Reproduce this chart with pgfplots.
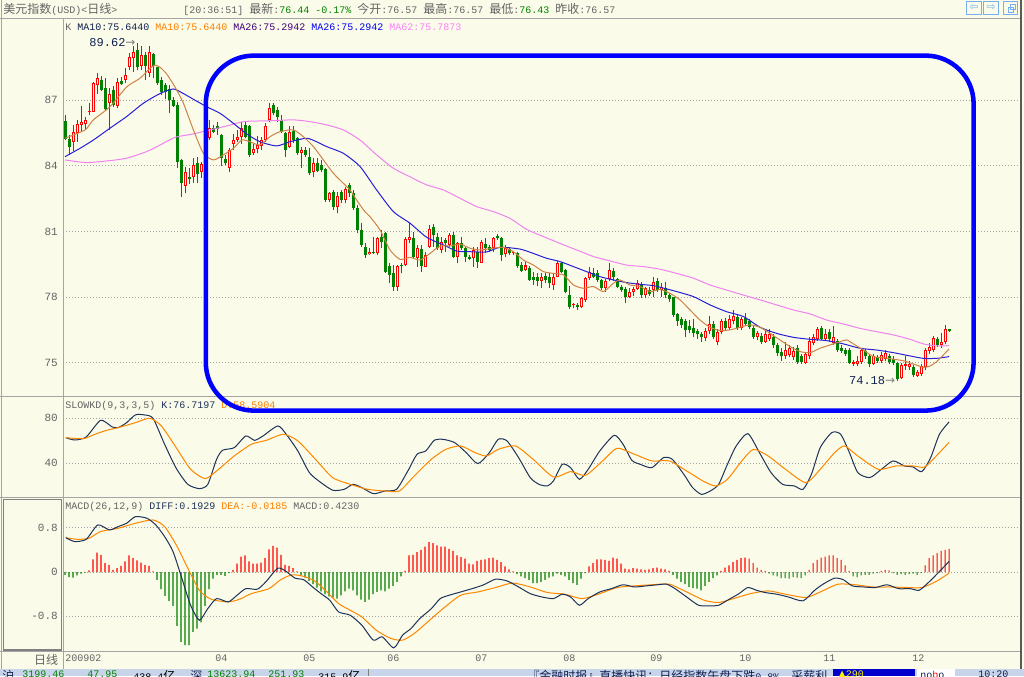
\documentclass[border=0pt]{standalone}
\usepackage{pgfplots}
\pgfplotsset{compat=1.18}
\usepackage{pgfplotstable}
\usepackage{fontspec}
\setmainfont{Liberation Mono}
\newfontfamily\cjk[Scale=1.2]{Noto Sans CJK SC}
\newfontfamily\sym{DejaVu Sans}

\definecolor{bg}{RGB}{250,251,232}
\definecolor{upred}{RGB}{255,0,0}
\definecolor{dngreen}{RGB}{0,128,0}
\definecolor{ma10}{RGB}{205,130,70}
\definecolor{ma26}{RGB}{40,30,215}
\definecolor{ma62}{RGB}{240,130,240}
\definecolor{kline}{RGB}{30,50,90}
\definecolor{dline}{RGB}{255,135,0}
\definecolor{txtgray}{RGB}{100,100,100}
\definecolor{gridgray}{RGB}{165,165,165}
\definecolor{framegray}{RGB}{165,165,165}
\definecolor{navy}{RGB}{16,32,80}
\definecolor{purp}{RGB}{64,0,128}
\definecolor{pinklab}{RGB}{255,128,255}
\definecolor{annoblue}{RGB}{0,0,255}
\definecolor{iconblue}{RGB}{120,175,240}
\definecolor{statusbg}{RGB}{200,212,234}
\definecolor{orangelab}{RGB}{255,128,0}

\newcommand\basefont{\fontsize{7.5pt}{9pt}\selectfont}
\newcommand\ticfont{\fontsize{8.25pt}{9pt}\selectfont}

\pgfplotstableread{
i o h l c
0 86.05 86.31 85.18 85.24
1 85.24 85.40 84.50 84.85
2 85.10 85.87 84.68 85.56
3 85.50 86.10 85.10 85.90
4 85.87 86.73 85.56 86.02
5 85.90 86.25 85.67 86.10
6 86.45 86.85 86.30 86.46
7 86.47 87.85 86.45 87.77
8 87.70 88.23 87.30 88.00
9 87.92 88.10 87.40 87.47
10 87.54 88.00 86.55 86.58
11 86.86 87.54 85.64 87.28
12 87.47 87.65 86.70 86.78
13 86.73 88.03 86.63 87.85
14 87.88 88.07 87.70 87.74
15 87.93 88.45 87.80 88.15
16 88.53 89.14 88.38 88.99
17 88.91 89.47 88.30 89.22
18 89.30 89.62 88.38 88.50
19 88.56 89.47 88.38 89.06
20 89.06 89.20 87.92 88.56
21 88.23 89.45 88.07 89.22
22 89.10 89.14 88.00 88.56
23 88.50 88.53 87.70 87.77
24 87.90 88.07 87.24 87.35
25 87.70 87.77 87.04 87.39
26 87.50 87.70 86.43 87.00
27 87.00 87.13 86.70 86.75
28 86.78 86.93 83.92 84.19
29 84.27 84.30 82.60 83.20
30 83.10 83.97 82.75 83.70
31 83.51 83.90 83.17 83.39
32 83.48 84.35 83.20 84.04
33 84.12 84.39 83.20 83.63
34 83.74 84.19 83.43 84.09
35 84.05 85.30 83.95 85.20
36 85.26 86.10 85.18 85.72
37 85.75 85.87 85.49 85.56
38 85.82 86.02 85.40 85.70
39 85.41 85.46 84.00 84.35
40 84.30 84.50 84.04 84.12
41 83.92 84.80 83.70 84.73
42 85.00 85.46 84.73 85.20
43 85.18 85.64 85.10 85.33
44 85.33 86.00 85.00 85.72
45 85.87 86.02 85.26 85.33
46 85.82 85.87 84.42 84.50
47 84.57 85.00 84.50 84.75
48 84.75 85.36 84.57 84.95
49 84.90 85.33 84.73 85.18
50 85.18 85.94 85.10 85.82
51 86.10 86.88 86.00 86.63
52 86.78 86.85 86.30 86.40
53 86.55 86.70 86.00 86.22
54 86.10 86.33 85.49 85.56
55 85.49 85.56 84.42 84.73
56 84.88 85.82 84.80 85.56
57 85.60 85.82 85.03 85.18
58 85.26 85.33 84.50 84.57
59 84.57 84.88 83.90 84.73
60 84.73 84.85 84.42 84.50
61 84.42 84.80 83.58 83.66
62 83.74 84.35 83.50 84.15
63 84.15 84.35 83.70 83.78
64 84.04 84.27 83.70 83.80
65 83.84 83.90 82.37 82.44
66 82.44 82.82 82.37 82.75
67 82.82 82.90 81.98 82.14
68 82.14 82.82 81.83 82.62
69 82.82 82.90 82.29 82.44
70 82.44 83.05 82.29 82.93
71 83.13 83.23 82.60 82.75
72 82.75 82.90 81.98 82.06
73 82.06 82.21 80.92 81.07
74 81.07 81.40 80.31 80.39
75 80.28 80.46 79.78 79.93
76 79.96 80.24 79.93 80.08
77 80.08 80.77 79.98 80.00
78 80.00 80.77 79.93 80.72
79 80.77 81.07 80.24 80.54
80 80.92 81.00 79.12 79.17
81 79.43 79.55 78.64 79.02
82 79.09 79.47 78.30 78.46
83 78.49 79.47 78.30 79.43
84 79.48 79.58 79.09 79.43
85 79.47 80.77 79.43 80.65
86 80.62 81.40 80.46 80.77
87 80.70 81.00 79.78 79.86
88 79.78 80.39 79.40 80.24
89 80.20 80.39 79.17 79.43
90 79.40 80.08 79.37 79.93
91 80.30 81.30 80.24 81.10
92 81.19 81.35 80.31 80.84
93 80.77 80.92 80.16 80.24
94 80.16 80.77 80.00 80.54
95 80.62 80.70 80.08 80.46
96 80.39 80.92 80.31 80.85
97 80.85 81.00 79.78 79.86
98 79.86 80.54 79.55 80.46
99 80.46 80.77 80.16 80.24
100 80.24 80.31 79.63 79.86
101 79.86 79.93 79.70 79.75
102 79.78 80.31 79.40 80.16
103 80.08 80.31 79.32 79.63
104 79.58 80.62 79.55 80.54
105 80.42 80.69 80.00 80.24
106 80.30 80.39 80.08 80.16
107 80.24 80.77 80.08 80.72
108 80.80 80.87 80.62 80.69
109 80.69 80.77 79.67 79.93
110 79.96 80.39 79.86 80.27
111 80.20 80.31 79.93 80.00
112 80.00 80.08 79.95 80.04
113 80.00 80.08 79.32 79.43
114 79.48 79.63 79.17 79.22
115 79.25 79.63 79.22 79.45
116 79.32 79.43 78.76 78.79
117 78.94 79.17 78.56 78.79
118 78.94 79.09 78.52 78.76
119 78.76 79.12 78.41 78.94
120 78.97 79.09 78.64 78.79
121 78.91 79.09 78.41 78.67
122 78.56 79.06 78.33 78.91
123 78.94 79.67 78.91 79.55
124 79.55 79.63 79.09 79.17
125 79.25 79.28 78.18 78.26
126 78.10 78.52 77.45 77.57
127 77.63 77.75 77.50 77.70
128 77.63 77.75 77.42 77.57
129 77.54 78.03 77.50 77.95
130 77.88 78.94 77.80 78.87
131 78.87 79.40 78.79 79.17
132 79.12 79.32 78.87 78.94
133 79.09 79.25 78.71 78.79
134 78.79 78.84 78.33 78.41
135 78.41 78.84 78.26 78.74
136 78.82 79.55 78.76 79.25
137 79.20 79.32 78.76 78.91
138 78.82 78.87 78.41 78.49
139 78.46 78.56 78.26 78.33
140 78.36 78.49 77.72 78.03
141 78.00 78.41 77.95 78.26
142 78.26 78.49 78.06 78.38
143 78.38 78.79 78.33 78.64
144 78.56 78.71 77.98 78.10
145 78.10 78.49 77.95 78.41
146 78.33 78.49 78.06 78.13
147 78.33 78.94 78.00 78.71
148 78.76 78.87 78.26 78.33
149 78.33 78.64 78.03 78.49
150 78.41 78.71 77.95 78.10
151 78.10 78.20 77.80 77.90
152 78.00 78.03 77.10 77.19
153 77.25 77.30 76.70 76.90
154 77.00 77.10 76.60 76.75
155 76.90 77.00 76.20 76.50
156 76.70 76.95 76.35 76.50
157 76.60 77.00 76.20 76.35
158 76.45 76.55 76.10 76.30
159 76.30 76.40 75.95 76.20
160 76.15 76.60 76.00 76.45
161 76.45 77.15 76.30 76.80
162 76.80 76.90 76.10 76.20
163 75.95 76.55 75.80 76.40
164 76.40 77.00 76.30 76.90
165 76.90 77.05 76.50 76.60
166 76.60 77.20 76.50 77.00
167 76.90 77.40 76.80 77.15
168 77.10 77.20 76.50 76.60
169 76.60 77.10 76.50 77.00
170 77.05 77.30 76.70 76.80
171 76.90 77.00 76.55 76.65
172 76.60 76.70 76.10 76.20
173 76.20 76.45 76.05 76.35
174 76.25 76.35 75.85 75.95
175 75.95 76.45 75.90 76.30
176 76.10 76.55 76.00 76.30
177 76.20 76.30 75.70 75.80
178 75.80 75.90 75.30 75.45
179 75.50 75.70 75.10 75.30
180 75.30 75.95 75.20 75.60
181 75.35 75.80 75.25 75.70
182 75.25 75.75 75.15 75.55
183 75.70 75.80 74.95 75.05
184 75.30 75.40 74.95 75.05
185 75.00 75.45 74.95 75.40
186 75.30 76.20 75.20 76.00
187 75.90 76.30 75.80 76.20
188 76.10 76.65 76.00 76.55
189 76.60 76.70 76.05 76.10
190 76.10 76.55 76.00 76.30
191 76.40 76.55 75.95 76.10
192 75.90 76.70 75.80 76.20
193 76.00 76.10 75.50 75.60
194 75.70 75.80 75.45 75.55
195 75.60 75.70 75.30 75.40
196 75.60 75.70 74.95 75.00
197 74.95 75.15 74.85 75.05
198 74.95 75.30 74.85 75.10
199 75.05 75.70 74.95 75.60
200 75.55 75.65 75.20 75.30
201 75.30 75.40 74.80 74.95
202 74.95 75.40 74.90 75.30
203 75.25 75.35 75.00 75.10
204 75.10 75.50 75.00 75.35
205 75.20 75.60 75.10 75.45
206 75.30 75.40 74.95 75.05
207 75.20 75.30 74.90 75.00
208 75.00 75.05 74.18 74.25
209 74.30 75.00 74.25 74.90
210 74.85 75.30 74.70 74.95
211 74.80 75.10 74.70 74.95
212 74.80 74.90 74.35 74.45
213 74.40 74.70 74.35 74.60
214 74.50 74.95 74.40 74.85
215 74.80 75.70 74.70 75.60
216 75.55 75.90 75.40 75.75
217 75.60 76.25 75.50 76.15
218 76.10 76.20 75.75 75.80
219 75.80 76.35 75.70 75.95
220 75.95 76.75 75.85 76.57
221 76.57 76.57 76.43 76.44
}\candles

\pgfplotstableread{
x y
0 85.26
5 85.64
7.1 86.10
11.25 86.70
15.4 87.60
18.75 88.00
21.25 88.45
22.5 88.60
23.75 88.50
25.4 88.20
27.5 87.60
29.6 86.86
32.1 85.64
34.6 84.57
37.1 84.27
39.6 84.50
42.1 84.80
44.2 85.18
46.25 85.10
48.75 84.95
51.25 85.33
53.75 85.56
57.1 85.64
59.6 85.33
62.1 84.88
64.6 84.27
67.1 83.66
69.6 83.20
71.25 82.90
72.9 82.44
75 81.90
76.25 81.68
78.75 81.07
81.25 80.16
83.75 79.73
86.25 79.82
88.75 79.70
91.25 80.00
93.75 80.34
96.25 80.34
98.75 80.43
101.25 80.24
103.75 80.16
107.1 80.24
109.6 80.28
112.1 80.08
114.6 79.70
117.1 79.47
119.6 79.17
122.1 79.09
124.6 79.02
127.1 78.56
129.6 78.41
132.1 78.49
134.6 78.26
137.1 78.64
138.75 78.79
141.25 78.56
143.75 78.49
146.25 78.26
148.75 78.35
151.25 78.18
153.75 77.88
156.25 77.42
158.75 76.96
161.25 76.63
163.75 76.48
166.25 76.51
168.75 76.63
171.25 76.74
173.75 76.63
176.25 76.35
178.75 76.05
181.25 75.75
183.75 75.52
186.25 75.47
188.75 75.67
191.25 75.82
193.75 75.97
195.4 76.05
197.1 75.87
199.6 75.59
202.1 75.29
204.6 75.24
207.1 75.17
209.6 75.10
212.1 74.95
214.6 74.80
216.25 74.86
217.9 75.06
219.6 75.37
221 75.64
}\maten

\pgfplotstableread{
x y
0 84.42
3.75 84.80
7.1 85.18
11.25 85.72
15.4 86.25
19.6 86.86
23.75 87.30
27.1 87.51
29.6 87.30
32.1 87.04
35.4 86.70
38.75 86.40
42.1 85.94
45.4 85.46
48.75 85.10
52.9 84.91
56.25 85.10
60.4 85.26
62.9 85.10
65.4 84.88
69.6 84.57
73.75 83.97
77.9 82.90
82.1 81.91
86.25 81.38
90.4 80.74
94.6 80.39
97.9 80.11
101.25 80.08
105.4 80.07
108.75 80.28
113.75 80.20
117.1 80.00
120.4 79.78
123.75 79.63
127.1 79.40
130.4 79.17
133.75 78.94
137.1 78.79
140.4 78.67
143.75 78.59
147.1 78.53
150 78.40
152.9 78.26
157.1 78.03
161.25 77.65
165.4 77.34
169.6 77.12
173.75 76.63
177.9 76.35
182.1 76.17
186.25 76.08
190.4 76.02
194.6 75.87
198.75 75.67
202.9 75.59
207.1 75.47
211.25 75.32
214.6 75.21
217.9 75.21
221 75.29
}\matwentysix

\pgfplotstableread{
x y
0 84.27
5.4 84.15
11.25 84.24
15.4 84.35
20.4 84.65
23.75 84.95
27.5 85.30
32.1 85.46
36.25 85.64
40.4 85.82
44.6 86.02
48.75 86.05
52.9 86.07
57.1 86.10
61.25 86.02
65.4 85.87
69.6 85.64
73.75 85.18
77.9 84.50
82.1 83.89
86.25 83.50
90.4 83.13
94.6 82.90
98.75 82.52
102.9 82.14
107.1 81.91
111.25 81.60
115.4 81.10
119.6 80.77
123.75 80.46
127.9 80.16
132.1 79.86
136.25 79.66
140.4 79.47
144.6 79.40
148.75 79.28
152.9 79.09
157.1 78.87
161.25 78.56
165.4 78.33
169.6 78.10
173.75 77.88
177.9 77.65
182.1 77.42
186.25 77.24
190.4 76.96
194.6 76.78
198.75 76.58
202.9 76.43
207.1 76.28
211.25 76.08
214.6 75.87
217.9 75.78
221 75.79
}\masixtytwo

\pgfplotstableread{
x y
0.2 62.8
2.4 60.7
5.3 63.4
8.9 78.2
11.8 72.3
13.3 71.7
15.4 76.1
17.6 83.0
19.8 83.0
22.0 80.0
24.9 56.9
27.8 35.6
30.7 21.3
33.6 17.5
35.7 21.3
37.9 43.6
39.4 51.6
42.3 53.9
45.2 64.3
47.4 60.4
49.5 64.3
53.2 73.2
55.3 65.8
58.2 51.0
61.1 31.7
64.0 22.8
67.0 16.0
69.8 16.9
72.0 21.3
74.2 18.4
77.1 13.0
80.0 15.4
82.9 16.9
85.8 33.8
88.0 48.0
90.2 51.0
92.3 60.4
94.5 61.3
97.4 58.4
100.3 49.5
103.2 39.7
106.1 49.5
108.3 61.3
110.5 59.9
113.4 45.0
116.3 27.3
118.5 21.3
120.6 19.9
122.1 24.3
124.3 39.1
126.4 36.1
128.6 25.8
130.8 34.7
133.7 51.0
137.3 64.9
139.5 56.9
141.7 42.7
143.8 39.1
146.7 36.1
149.6 45.0
151.8 43.6
154.7 30.2
156.9 18.4
159.1 12.4
161.3 15.4
163.4 21.3
165.6 39.1
167.8 55.4
170.7 66.4
173.6 49.5
176.5 31.7
179.4 21.3
182.3 19.9
184.5 16.9
186.6 30.2
188.8 53.9
191.7 67.3
193.9 65.8
196.1 49.5
198.2 31.7
201.2 27.3
204.1 34.7
207.0 42.1
209.9 37.6
212.0 36.7
214.2 32.6
216.4 45.0
218.6 65.8
221 76.7
}\kdk

\pgfplotstableread{
x y
0.2 62.8
4.6 61.9
7.5 65.8
10.4 69.3
13.3 71.7
17.6 76.1
21.2 80.0
24.1 73.2
27.8 53.9
31.4 34.7
35.0 26.4
37.9 33.2
42.3 46.5
46.6 56.9
50.3 60.4
54.6 65.8
58.2 59.9
62.6 43.6
66.9 27.3
71.3 21.3
75.6 16.9
80.0 15.4
83.6 15.4
87.3 28.7
91.6 43.6
95.2 52.4
98.9 55.4
102.5 49.5
105.4 46.5
108.3 52.4
112.6 55.4
117.0 43.6
122.1 27.9
126.4 32.6
130.1 29.3
134.4 42.1
138.0 53.3
142.4 48.0
146.7 42.1
151.1 42.1
155.4 33.2
159.8 23.7
162.7 19.9
165.6 25.8
169.2 42.1
172.1 52.4
175.8 46.5
180.1 34.7
185.2 22.8
188.8 34.7
192.4 49.5
194.9 55.4
198.2 46.5
203.3 34.7
207.7 37.6
212.0 37.6
214.9 36.7
217.8 46.5
221 58.6
}\kdd

\pgfplotstableread{
x y
0.2 0.62
2.4 0.55
5.3 0.59
8.2 0.85
11.1 0.76
13.3 0.82
15.4 0.88
17.6 1.00
20.5 0.97
22.7 0.85
24.9 0.64
27.0 0.37
29.2 -0.11
31.4 -0.60
33.6 -0.87
35.7 -0.66
37.9 -0.48
40.8 -0.54
43.0 -0.42
45.2 -0.30
48.1 -0.31
50.3 -0.17
53.2 0.07
55.3 0.01
57.5 -0.11
59.7 -0.14
61.9 -0.27
64.0 -0.39
66.2 -0.51
68.4 -0.72
71.3 -0.78
74.2 -0.96
77.1 -1.23
79.3 -1.17
82.2 -1.37
84.4 -1.14
86.5 -1.02
88.7 -0.84
91.6 -0.66
93.8 -0.48
96.0 -0.42
98.9 -0.36
101.8 -0.30
104.7 -0.23
107.6 -0.13
110.5 -0.16
113.4 -0.27
116.3 -0.39
119.2 -0.45
122.1 -0.48
124.3 -0.40
126.4 -0.45
128.6 -0.60
130.8 -0.48
133.7 -0.36
136.6 -0.30
139.5 -0.23
142.4 -0.27
145.3 -0.25
148.2 -0.23
150.4 -0.22
152.5 -0.30
155.4 -0.45
158.4 -0.60
161.3 -0.61
163.4 -0.60
165.6 -0.51
168.5 -0.39
170.7 -0.28
172.9 -0.33
175.0 -0.37
177.9 -0.40
180.8 -0.45
184.5 -0.52
187.4 -0.33
189.5 -0.22
192.4 -0.11
194.6 -0.14
196.8 -0.25
199.7 -0.27
202.6 -0.28
205.5 -0.23
208.4 -0.30
211.3 -0.30
213.5 -0.33
215.7 -0.20
217.8 -0.05
221 0.19
}\macddiff

\pgfplotstableread{
x y
0.2 0.62
3.1 0.59
6.0 0.61
8.9 0.73
13.3 0.79
17.6 0.88
22.0 0.94
24.9 0.82
27.8 0.49
30.7 0.07
33.6 -0.33
36.5 -0.49
40.8 -0.54
43.7 -0.49
46.6 -0.39
51.0 -0.30
53.9 -0.14
56.8 -0.05
59.7 -0.08
62.6 -0.17
65.5 -0.36
68.4 -0.57
71.3 -0.69
74.2 -0.81
77.8 -1.05
81.5 -1.20
84.4 -1.23
87.3 -1.11
90.2 -0.93
94.5 -0.66
98.9 -0.42
103.2 -0.36
107.6 -0.28
111.9 -0.20
116.3 -0.27
120.6 -0.37
124.9 -0.40
129.3 -0.48
133.7 -0.39
138.0 -0.28
142.4 -0.25
146.7 -0.23
151.1 -0.22
155.4 -0.36
159.8 -0.51
163.4 -0.55
167.1 -0.48
171.4 -0.39
175.8 -0.34
180.1 -0.40
185.2 -0.46
188.8 -0.36
193.2 -0.22
197.5 -0.23
201.9 -0.27
206.2 -0.27
210.6 -0.28
214.2 -0.28
217.8 -0.17
221 -0.02
}\macddea

\pgfplotstableread{
i m
0 -0.05
1 -0.09
2 -0.10
3 -0.06
4 -0.03
5 -0.01
6 0.03
7 0.23
8 0.35
9 0.31
10 0.16
11 0.13
12 0.04
13 0.07
14 0.11
15 0.19
16 0.30
17 0.25
18 0.21
19 0.17
20 0.13
21 0.11
22 0.01
23 -0.14
24 -0.31
25 -0.43
26 -0.52
27 -0.61
28 -0.97
29 -1.26
30 -1.32
31 -1.32
32 -1.08
33 -1.02
34 -0.91
35 -0.61
36 -0.31
37 -0.12
38 -0.05
39 -0.05
40 -0.07
41 -0.02
42 0.04
43 0.15
44 0.28
45 0.30
46 0.19
47 0.15
48 0.15
49 0.17
50 0.25
51 0.41
52 0.47
53 0.44
54 0.31
55 0.13
56 0.11
57 0.07
58 0.01
59 -0.06
60 -0.10
61 -0.16
62 -0.22
63 -0.28
64 -0.35
65 -0.40
66 -0.44
67 -0.46
68 -0.48
69 -0.42
70 -0.35
71 -0.30
72 -0.33
73 -0.42
74 -0.50
75 -0.54
76 -0.50
77 -0.40
78 -0.36
79 -0.33
80 -0.35
81 -0.30
82 -0.25
83 -0.18
84 -0.08
85 0.02
86 0.30
87 0.31
88 0.36
89 0.40
90 0.46
91 0.54
92 0.52
93 0.48
94 0.46
95 0.46
96 0.42
97 0.38
98 0.30
99 0.27
100 0.24
101 0.15
102 0.14
103 0.20
104 0.22
105 0.23
106 0.25
107 0.26
108 0.22
109 0.18
110 0.10
111 0.05
112 0.01
113 -0.04
114 -0.08
115 -0.11
116 -0.14
117 -0.20
118 -0.20
119 -0.18
120 -0.14
121 -0.10
122 -0.08
123 -0.03
124 -0.05
125 -0.08
126 -0.14
127 -0.20
128 -0.23
129 -0.12
130 -0.02
131 0.10
132 0.16
133 0.23
134 0.23
135 0.22
136 0.20
137 0.26
138 0.24
139 0.15
140 0.06
141 0.05
142 0.07
143 0.06
144 0.05
145 0.04
146 0.05
147 0.07
148 0.08
149 0.06
150 0.05
151 0.02
152 -0.05
153 -0.12
154 -0.18
155 -0.22
156 -0.27
157 -0.29
158 -0.30
159 -0.33
160 -0.25
161 -0.18
162 -0.11
163 -0.06
164 0.02
165 0.08
166 0.12
167 0.18
168 0.22
169 0.25
170 0.26
171 0.24
172 0.16
173 0.08
174 0.04
175 0.02
176 -0.03
177 -0.06
178 -0.08
179 -0.11
180 -0.11
181 -0.12
182 -0.09
183 -0.10
184 -0.11
185 -0.06
186 0.04
187 0.16
188 0.22
189 0.26
190 0.28
191 0.30
192 0.30
193 0.25
194 0.22
195 0.12
196 0.02
197 -0.08
198 -0.09
199 -0.06
200 -0.05
201 -0.05
202 -0.03
203 -0.02
204 0.02
205 0.04
206 0.03
207 -0.02
208 -0.05
209 -0.04
210 -0.05
211 -0.04
212 -0.03
213 -0.05
214 -0.02
215 0.12
216 0.25
217 0.30
218 0.34
219 0.38
220 0.40
221 0.42
}\macdh

\pgfplotsset{
  panel/.style={
    scale only axis, width=717.75pt,
    xmin=-0.5, xmax=238.75,
    axis line style={draw=none},
    tick style={draw=none},
    xtick=\empty,
    ymajorgrids,
    grid style={draw=gridgray, line width=0.75pt, dash pattern=on 0.75pt off 1.5pt},
    yticklabel style={text=txtgray, font=\ticfont, anchor=east, inner sep=0pt, xshift=-3.75pt},
    clip=true,
  },
}

\begin{document}
\begin{tikzpicture}[font=\basefont]
\path[use as bounding box] (0,0) rectangle (768pt,-507pt);
\fill[bg] (0,0) rectangle (768pt,-507pt);

% ===== K-line panel =====
\begin{axis}[panel, at={(47.25pt,-297pt)}, anchor=south west, height=283.5pt,
  ymin=73.493, ymax=90.753, ytick={75,78,81,84,87}, yticklabels={75,78,81,84,87}]
% red (up) wicks
\addplot[draw=none, mark=none, forget plot, error bars/.cd, y dir=plus, y explicit, error mark=none,
  error bar style={draw=upred, line width=0.75pt}]
  table[x=i, y expr={ifthenelse(\thisrow{c}>=\thisrow{o},\thisrow{l},-100)}, y error plus expr={\thisrow{h}-\thisrow{l}}] {\candles};
% green (down) wicks
\addplot[draw=none, mark=none, forget plot, error bars/.cd, y dir=plus, y explicit, error mark=none,
  error bar style={draw=dngreen, line width=0.75pt}]
  table[x=i, y expr={ifthenelse(\thisrow{c}<\thisrow{o},\thisrow{l},-100)}, y error plus expr={\thisrow{h}-\thisrow{l}}] {\candles};
% red bodies (outer)
\addplot[draw=none, mark=none, forget plot, error bars/.cd, y dir=plus, y explicit, error mark=none,
  error bar style={draw=upred, line width=2.25pt}]
  table[x=i, y expr={ifthenelse(\thisrow{c}>=\thisrow{o},\thisrow{o},-100)}, y error plus expr={max(\thisrow{c}-\thisrow{o},0.046)}] {\candles};
% red bodies (hollow inside)
\addplot[draw=none, mark=none, forget plot, error bars/.cd, y dir=plus, y explicit, error mark=none,
  error bar style={draw=bg, line width=0.75pt}]
  table[x=i, y expr={ifthenelse(\thisrow{c}-\thisrow{o}>0.1,\thisrow{o}+0.046,-100)}, y error plus expr={max(\thisrow{c}-\thisrow{o}-0.092,0)}] {\candles};
% green bodies
\addplot[draw=none, mark=none, forget plot, error bars/.cd, y dir=plus, y explicit, error mark=none,
  error bar style={draw=dngreen, line width=2.25pt}]
  table[x=i, y expr={ifthenelse(\thisrow{c}<\thisrow{o},\thisrow{c},-100)}, y error plus expr={max(\thisrow{o}-\thisrow{c},0.046)}] {\candles};
% moving averages
\addplot[ma62, line width=0.75pt, mark=none, smooth, tension=0.4] table {\masixtytwo};
\addplot[ma26, line width=0.75pt, mark=none, smooth, tension=0.4] table {\matwentysix};
\addplot[ma10, line width=0.75pt, mark=none, smooth, tension=0.4] table {\maten};
% extremes
\node[anchor=east, inner sep=0pt, font=\fontsize{9pt}{10pt}\selectfont] at (axis cs:17.7,89.62)
  {\textcolor{navy}{89.62}\textcolor{gray}{\sym →}};
\node[anchor=east, inner sep=0pt, font=\fontsize{9pt}{10pt}\selectfont] at (axis cs:207.6,74.18)
  {\textcolor{navy}{74.18}\textcolor{gray}{\sym →}};
\end{axis}

% ===== SLOWKD panel =====
\begin{axis}[panel, at={(47.25pt,-372.75pt)}, anchor=south west, height=75.75pt,
  ymin=10.04, ymax=99.8, ytick={40,80}, yticklabels={40,80}]
\addplot[kline, line width=0.75pt, mark=none, smooth, tension=0.4] table {\kdk};
\addplot[dline, line width=0.75pt, mark=none, smooth, tension=0.4] table {\kdd};
\end{axis}

% ===== MACD panel =====
\begin{axis}[panel, at={(47.25pt,-488.25pt)}, anchor=south west, height=115.5pt,
  ymin=-1.426, ymax=1.354, ytick={-0.8,0,0.8}, yticklabels={-0.8,0,0.8},
  xtick={0,37.5,59.5,80.5,102.5,124.5,146.25,168.5,189.5,211.75},
  xticklabels={200902,04,05,06,07,08,09,10,11,12},
  xticklabel style={anchor=north west, inner sep=0pt, text=txtgray, font=\basefont, yshift=-3pt}]
\addplot[ybar, bar width=0.8pt, bar shift=0pt, draw=none, fill=upred, mark=none]
  table[x=i, y expr={max(\thisrow{m},0)}] {\macdh};
\addplot[ybar, bar width=0.8pt, bar shift=0pt, draw=none, fill=dngreen, mark=none]
  table[x=i, y expr={min(\thisrow{m},0)}] {\macdh};
\addplot[dline, line width=0.75pt, mark=none, smooth, tension=0.4] table {\macddea};
\addplot[kline, line width=0.75pt, mark=none, smooth, tension=0.4] table {\macddiff};
\end{axis}

\begin{scope}[x=0.75pt,y=-0.75pt]
% frame lines
\draw[framegray, line width=0.75pt] (0,18.5) -- (1021,18.5);
\draw[framegray, line width=0.75pt] (0,396.5) -- (1021,396.5);
\draw[framegray, line width=0.75pt] (0,497.5) -- (1021,497.5);
\draw[framegray, line width=0.75pt] (0,651.5) -- (1021,651.5);
\draw[framegray, line width=0.75pt] (63.5,18.5) -- (63.5,668.5);
\draw[framegray, line width=1.2pt] (1.5,0) -- (1.5,668.5);
\draw[gray!70!black, line width=1.2pt] (1021,0) -- (1021,668.5);
\draw[gray, line width=1.2pt] (3.5,499.5) rectangle (61.5,650);
% header
\node[anchor=west, inner sep=0pt, text=txtgray] at (3,9) {{\cjk 美元指数}(USD)<{\cjk 日线}>};
\node[anchor=west, inner sep=0pt, text=txtgray] at (183,9)
  {[20:36:51] {\cjk 最新}:\textcolor{dngreen}{76.44 -0.17\%} {\cjk 今开}:76.57 {\cjk 最高}:76.57 {\cjk 最低}:\textcolor{dngreen}{76.43} {\cjk 昨收}:76.57};
% icons
\draw[iconblue, line width=0.9pt] (966.5,1.5) rectangle (981.5,14.5);
\draw[iconblue, line width=0.9pt] (983.5,1.5) rectangle (998.5,14.5);
\draw[iconblue, line width=0.9pt] (1003.5,1.5) rectangle (1017.5,14.5);
\node[inner sep=0pt, text=iconblue, font=\sym\fontsize{8pt}{8pt}\selectfont] at (974,8) {⇦};
\node[inner sep=0pt, text=iconblue, font=\sym\fontsize{8pt}{8pt}\selectfont] at (991,8) {⇨};
\draw[iconblue, line width=0.9pt] (1008.5,7.5) rectangle (1013.5,12.5);
\draw[iconblue, line width=0.9pt] (1010.5,4.5) rectangle (1015.5,9.5);
% legends
\node[anchor=west, inner sep=0pt] at (65,27)
  {\textcolor{txtgray}{K} \textcolor{navy}{MA10:75.6440} \textcolor{orangelab}{MA10:75.6440} \textcolor{purp}{MA26:75.2942} \textcolor{blue}{MA26:75.2942} \textcolor{pinklab}{MA62:75.7873}};
\node[anchor=west, inner sep=0pt] at (65,406)
  {\textcolor{txtgray}{SLOWKD(9,3,3,5)} \textcolor{kline}{K:76.7197} \textcolor{orangelab}{D:58.5904}};
\node[anchor=west, inner sep=0pt] at (65,507)
  {\textcolor{txtgray}{MACD(26,12,9)} \textcolor{kline}{DIFF:0.1929} \textcolor{orangelab}{DEA:-0.0185} \textcolor{txtgray}{MACD:0.4230}};
% date row label
\node[anchor=east, inner sep=0pt, text=txtgray] at (58.5,660) {\cjk 日线};
% status bar
\fill[statusbg] (0,669) rectangle (1024,676);
\begin{scope}
\clip (0,669) rectangle (1024,676);
\node[anchor=north west, inner sep=0pt, text=navy] at (2,670.5) {\cjk 沪};
\node[anchor=north west, inner sep=0pt, text=dngreen] at (22,670.5) {3199.46};
\node[anchor=north west, inner sep=0pt, text=dngreen] at (87,670.5) {47.95};
\node[anchor=north west, inner sep=0pt, text=black] at (133,670.5) {438.4{\cjk 亿}};
\node[anchor=north west, inner sep=0pt, text=navy] at (190,670.5) {\cjk 深};
\node[anchor=north west, inner sep=0pt, text=dngreen] at (207,670.5) {13623.94};
\node[anchor=north west, inner sep=0pt, text=dngreen] at (268,670.5) {251.93};
\node[anchor=north west, inner sep=0pt, text=black] at (318,670.5) {315.9{\cjk 亿}};
\draw[gray] (368.5,669) -- (368.5,676);
\node[anchor=north west, inner sep=0pt, text=navy] at (527,670.5) {{\cjk 『金融时报』直播快讯：日经指数午盘下跌}0.8\%{\cjk ，采薪利}};
\fill[blue!80!black] (833,669) rectangle (915,676);
\node[anchor=north west, inner sep=0pt, text=yellow] at (838,670.5) {{\sym ▲}290};
\fill[white] (917,669) rectangle (955,676);
\node[anchor=north west, inner sep=0pt, text=navy] at (920,670.5) {no\textcolor{red}{b}o};
\node[anchor=north west, inner sep=0pt, text=navy] at (978,670.5) {10:20};
\end{scope}
% annotation rounded rectangle
\draw[annoblue, line width=3.4pt, rounded corners=36pt] (205.8,55.6) rectangle (973.6,410.6);
\end{scope}
\end{tikzpicture}
\end{document}
